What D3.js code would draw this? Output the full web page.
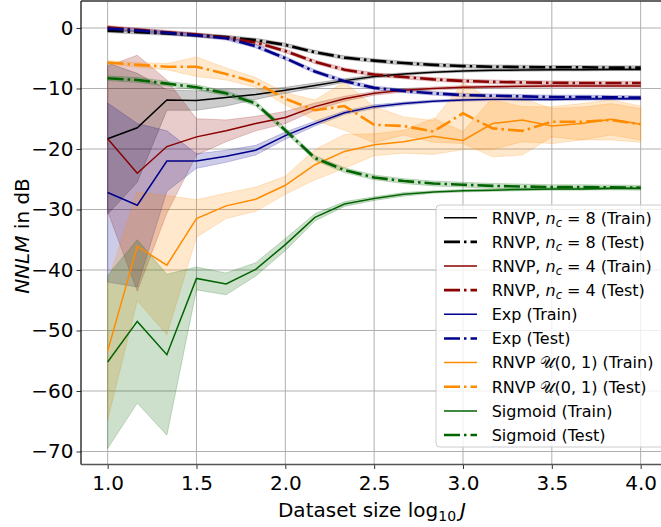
<!DOCTYPE html>
<html>
<head>
<meta charset="utf-8">
<script src="https://cdn.jsdelivr.net/npm/d3@7"></script>
<style>
  html, body { margin: 0; padding: 0; background: #fff; }
  svg { display: block; font-family: "DejaVu Sans", sans-serif; }
</style>
</head>
<body>
<svg id="chart" width="661" height="527"></svg>
<script>
// ---- data ----
const logJ = [1.0, 1.1667, 1.3333, 1.5, 1.6667, 1.8333, 2.0, 2.1667, 2.3333, 2.5, 2.6667, 2.8333, 3.0, 3.1667, 3.3333, 3.5, 3.6667, 3.8333, 4.0];

const rnvp8Train    = [-18.3, -16.5, -11.9, -12.0, -11.5, -11.0, -10.3, -9.5, -8.7, -8.0, -7.6, -7.3, -7.1, -7.0, -6.95, -6.9, -6.9, -6.85, -6.85];
const rnvp8TrainStd = [12.5, 9.0, 1.7, 1.6, 1.4, 0.8, 0.5, 0.4, 0.3, 0.25, 0.2, 0.2, 0.2, 0.2, 0.2, 0.2, 0.2, 0.2, 0.2];
const rnvp8Test     = [-0.45, -0.7, -0.9, -1.2, -1.5, -2.0, -2.8, -4.0, -4.9, -5.4, -5.8, -6.1, -6.3, -6.4, -6.45, -6.5, -6.5, -6.55, -6.55];
const rnvp8TestStd  = [0.3, 0.3, 0.3, 0.3, 0.3, 0.3, 0.3, 0.3, 0.3, 0.3, 0.3, 0.3, 0.3, 0.3, 0.3, 0.3, 0.3, 0.3, 0.3];

const rnvp4Train    = [-18.3, -24.0, -19.6, -18.0, -17.0, -15.8, -14.8, -13.0, -11.7, -10.8, -10.3, -10.0, -9.8, -9.7, -9.65, -9.6, -9.6, -9.6, -9.6];
const rnvp4TrainStd = [12.0, 19.5, 11.0, 3.0, 1.8, 1.2, 1.0, 0.6, 0.4, 0.3, 0.3, 0.25, 0.25, 0.2, 0.2, 0.2, 0.2, 0.2, 0.2];
const rnvp4Test     = [0.1, -0.3, -0.7, -1.1, -1.6, -2.4, -3.8, -5.6, -6.9, -7.7, -8.1, -8.5, -8.75, -8.9, -9.0, -9.05, -9.1, -9.1, -9.1];
const rnvp4TestStd  = [0.3, 0.3, 0.3, 0.3, 0.3, 0.3, 0.3, 0.3, 0.3, 0.3, 0.3, 0.3, 0.3, 0.3, 0.3, 0.3, 0.3, 0.3, 0.3];

const expTrain      = [-27.2, -29.3, -22.0, -22.0, -21.2, -20.2, -17.8, -15.8, -14.0, -13.0, -12.5, -12.1, -11.9, -11.8, -11.8, -11.8, -11.75, -11.7, -11.7];
const expTrainStd   = [14.8, 13.5, 5.0, 1.2, 1.0, 0.8, 0.6, 0.4, 0.3, 0.3, 0.25, 0.2, 0.2, 0.2, 0.2, 0.2, 0.2, 0.2, 0.2];
const expTest       = [-0.1, -0.4, -0.8, -1.2, -1.7, -3.0, -5.0, -7.2, -8.8, -9.9, -10.4, -10.8, -11.1, -11.2, -11.3, -11.4, -11.4, -11.45, -11.5];
const expTestStd    = [0.3, 0.3, 0.3, 0.3, 0.3, 0.3, 0.3, 0.3, 0.3, 0.3, 0.3, 0.3, 0.3, 0.3, 0.3, 0.3, 0.3, 0.3, 0.3];

const unifTrain     = [-53.4, -36.1, -39.2, -31.5, -29.4, -28.3, -26.0, -22.6, -20.4, -19.3, -18.8, -17.9, -18.6, -15.8, -15.2, -16.2, -15.8, -15.1, -15.9];
const unifTrainStd  = [11.4, 9.0, 11.5, 3.1, 2.1, 2.0, 1.5, 2.5, 2.8, 1.8, 1.9, 3.0, 1.5, 4.3, 3.6, 2.9, 2.7, 2.6, 2.6];
const unifTest      = [-5.7, -6.1, -6.4, -6.4, -7.6, -9.0, -11.7, -13.6, -12.9, -16.0, -16.2, -17.1, -14.1, -16.6, -17.0, -15.5, -15.5, -15.2, -15.9];
const unifTestStd   = [0.3, 0.4, 0.5, 1.6, 1.0, 0.8, 1.0, 1.7, 4.0, 3.0, 1.5, 1.8, 5.0, 4.7, 4.0, 2.5, 3.0, 3.3, 3.0];

const sigTrain      = [-55.2, -48.5, -54.0, -41.4, -42.3, -39.9, -35.8, -31.3, -29.1, -28.2, -27.5, -27.1, -26.9, -26.8, -26.7, -26.6, -26.6, -26.5, -26.5];
const sigTrainStd   = [14.3, 13.5, 13.3, 1.9, 1.8, 1.1, 1.0, 0.6, 0.4, 0.3, 0.3, 0.2, 0.2, 0.2, 0.2, 0.2, 0.2, 0.2, 0.2];
const sigTest       = [-8.3, -8.6, -9.2, -9.8, -10.8, -12.5, -16.9, -21.5, -23.5, -24.7, -25.3, -25.7, -25.9, -26.1, -26.2, -26.3, -26.3, -26.35, -26.4];
const sigTestStd    = [0.4, 0.4, 0.4, 0.4, 0.4, 0.4, 0.4, 0.4, 0.4, 0.4, 0.4, 0.4, 0.4, 0.4, 0.4, 0.4, 0.4, 0.4, 0.4];

const xTicks = [1.0, 1.5, 2.0, 2.5, 3.0, 3.5, 4.0];
const yTicks = [0, -10, -20, -30, -40, -50, -60, -70];

const series = [
  { kind: "train", color: "#000000", mean: rnvp8Train, std: rnvp8TrainStd },
  { kind: "test",  color: "#000000", mean: rnvp8Test,  std: rnvp8TestStd },
  { kind: "train", color: "#8b0000", mean: rnvp4Train, std: rnvp4TrainStd },
  { kind: "test",  color: "#8b0000", mean: rnvp4Test,  std: rnvp4TestStd },
  { kind: "train", color: "#00008b", mean: expTrain,   std: expTrainStd },
  { kind: "test",  color: "#00008b", mean: expTest,    std: expTestStd },
  { kind: "train", color: "#ff8c00", mean: unifTrain,  std: unifTrainStd },
  { kind: "test",  color: "#ff8c00", mean: unifTest,   std: unifTestStd },
  { kind: "train", color: "#006400", mean: sigTrain,   std: sigTrainStd },
  { kind: "test",  color: "#006400", mean: sigTest,    std: sigTestStd }
];

// ---- layout ----
const svg = d3.select("#chart");
const L = 81, T = 1, R = 667.3, B = 464.5;
const x = d3.scaleLinear().domain([0.85, 4.15]).range([L, R]);
const y = d3.scaleLinear().domain([-72.15, 4.46]).range([B, T]);

svg.append("defs").append("clipPath").attr("id", "clip")
  .append("rect").attr("x", L).attr("y", T).attr("width", R - L).attr("height", B - T);

// grid
const grid = svg.append("g");
grid.selectAll("line.gx").data(xTicks).enter().append("line")
  .attr("x1", d => x(d)).attr("x2", d => x(d)).attr("y1", T).attr("y2", B)
  .attr("stroke", "#b0b0b0").attr("stroke-width", 1);
grid.selectAll("line.gy").data(yTicks).enter().append("line")
  .attr("x1", L).attr("x2", R).attr("y1", d => y(d)).attr("y2", d => y(d))
  .attr("stroke", "#b0b0b0").attr("stroke-width", 1);

// data
const plot = svg.append("g").attr("clip-path", "url(#clip)");
const bandLayer = plot.append("g");
const lineLayer = plot.append("g");
const lineGen = d3.line().x((d, i) => x(logJ[i])).y(d => y(d));
series.forEach(s => {
  const area = d3.area()
    .x((d, i) => x(logJ[i]))
    .y0((d, i) => y(s.mean[i] - s.std[i]))
    .y1((d, i) => y(s.mean[i] + s.std[i]));
  bandLayer.append("path").datum(s.mean).attr("d", area)
    .attr("fill", s.color).attr("fill-opacity", 0.2)
    .attr("stroke", s.color).attr("stroke-opacity", 0.2).attr("stroke-width", 1);
  lineLayer.append("path").datum(s.mean).attr("d", lineGen)
    .attr("fill", "none").attr("stroke", s.color)
    .attr("stroke-width", s.kind === "train" ? 1.5 : 2.6)
    .attr("stroke-dasharray", s.kind === "train" ? null : "16,4,2.5,4");
});

// axes
const fmt = d => d < 0 ? "\u2212" + Math.abs(d) : String(d);
const yAxis = svg.append("g").attr("transform", `translate(${L},0)`)
  .call(d3.axisLeft(y).tickValues(yTicks).tickSize(4.5).tickPadding(3).tickFormat(fmt));
const xAxis = svg.append("g").attr("transform", `translate(0,${B})`)
  .call(d3.axisBottom(x).tickValues(xTicks).tickSize(4.5).tickPadding(7).tickFormat(d3.format(".1f")));
[yAxis, xAxis].forEach(a => {
  a.select(".domain").remove();
  a.selectAll("text").attr("font-size", 20).attr("fill", "#000").attr("font-family", "DejaVu Sans");
  a.selectAll(".tick line").attr("stroke", "#333").attr("stroke-width", 1);
});
// spines
svg.append("line").attr("x1", L).attr("x2", L).attr("y1", T).attr("y2", B).attr("stroke", "#000").attr("stroke-width", 1.2);
svg.append("line").attr("x1", L).attr("x2", R).attr("y1", B).attr("y2", B).attr("stroke", "#555").attr("stroke-width", 1.5);
svg.append("line").attr("x1", L).attr("x2", R).attr("y1", T).attr("y2", T).attr("stroke", "#333").attr("stroke-width", 1.5);

// axis labels
const xl = svg.append("text").attr("x", 372).attr("y", 517).attr("text-anchor", "middle")
  .attr("font-size", 20).attr("fill", "#000");
xl.append("tspan").text("Dataset size log");
xl.append("tspan").attr("font-size", 14).attr("dy", 4).text("10");
xl.append("tspan").attr("dy", -4).attr("font-style", "italic").text("\u2009J");

const yl = svg.append("text").attr("transform", "translate(29,236) rotate(-90)").attr("text-anchor", "middle")
  .attr("font-size", 20).attr("fill", "#000");
yl.append("tspan").attr("font-style", "italic").text("NNLM");
yl.append("tspan").text(" in dB");

// legend
const legendItems = [
  { s: series[0], parts: [["RNVP, ", {}], ["n", { it: 1 }], ["c", { sub: 1 }], [" = 8 (Train)", { up: 1 }]] },
  { s: series[1], parts: [["RNVP, ", {}], ["n", { it: 1 }], ["c", { sub: 1 }], [" = 8 (Test)", { up: 1 }]] },
  { s: series[2], parts: [["RNVP, ", {}], ["n", { it: 1 }], ["c", { sub: 1 }], [" = 4 (Train)", { up: 1 }]] },
  { s: series[3], parts: [["RNVP, ", {}], ["n", { it: 1 }], ["c", { sub: 1 }], [" = 4 (Test)", { up: 1 }]] },
  { s: series[4], parts: [["Exp (Train)", {}]] },
  { s: series[5], parts: [["Exp (Test)", {}]] },
  { s: series[6], parts: [["RNVP ", {}], ["\uD835\uDCB0", {}], ["(0, 1) (Train)", {}]] },
  { s: series[7], parts: [["RNVP ", {}], ["\uD835\uDCB0", {}], ["(0, 1) (Test)", {}]] },
  { s: series[8], parts: [["Sigmoid (Train)", {}]] },
  { s: series[9], parts: [["Sigmoid (Test)", {}]] }
];
const lg = svg.append("g");
lg.append("rect").attr("x", 436).attr("y", 205).attr("width", 230).attr("height", 242)
  .attr("rx", 4).attr("fill", "#fff").attr("fill-opacity", 0.8).attr("stroke", "#cccccc").attr("stroke-width", 1);
legendItems.forEach((it, i) => {
  const cy = 217.7 + 24.15 * i;
  lg.append("line").attr("x1", 444).attr("x2", 477).attr("y1", cy).attr("y2", cy)
    .attr("stroke", it.s.color).attr("stroke-width", it.s.kind === "train" ? 1.5 : 2.6)
    .attr("stroke-dasharray", it.s.kind === "train" ? null : "16,4,2.5,4");
  const t = lg.append("text").attr("x", 491.7).attr("y", cy + 5.8).attr("font-size", 16).attr("fill", "#000");
  it.parts.forEach(([str, o]) => {
    const sp = t.append("tspan").text(str);
    if (o.it) sp.attr("font-style", "italic");
    if (o.sub) sp.attr("font-size", 11.5).attr("font-style", "italic").attr("dy", 3);
    if (o.up) sp.attr("dy", -3);
  });
});
</script>
</body>
</html>
